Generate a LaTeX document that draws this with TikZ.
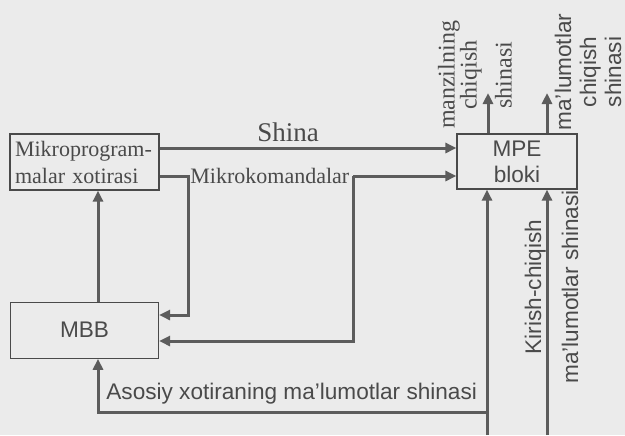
\documentclass[tikz,border=0pt]{standalone}
\usepackage{fontspec}
\setmainfont{Liberation Serif}
\setsansfont{Liberation Sans}
\usetikzlibrary{arrows.meta, positioning}
\definecolor{paper}{HTML}{EBEBEB}
\definecolor{ink}{HTML}{4A4A4A}
\definecolor{busgray}{HTML}{5C5C5C}
\tikzset{
  box/.style={
    rectangle,
    draw=ink,
    line width=0.6pt,
    text=ink,
    inner ysep=1pt
  },
  bus/.style={draw=busgray, line width=1.5pt},
  busarrow/.style={bus, -{Triangle[length=5.5pt,width=5pt]}},
  serifnote/.style={font=\fontsize{11}{13.5}\selectfont, text=ink, inner sep=1pt},
  sansnote/.style={font=\sffamily\fontsize{11.3}{13}\selectfont, text=ink, inner sep=1pt}
}

\begin{document}
\begin{tikzpicture}[x=0.5pt, y=-0.5pt]
\fill[paper] (0,0) rectangle (625,435);
\useasboundingbox (0,0) rectangle (625,435);

\node[box, serifnote, draw=ink, inner xsep=2.5pt, text width=69.5pt, minimum height=28pt, align=left] (mpx) at (84.5,162) {Mikroprogram-\\malar xotirasi};
\node[box, sansnote, draw=ink, minimum width=74pt, minimum height=28pt, below=55.5pt of mpx] (mbb) {MBB};
\node[box, sansnote, draw=ink, minimum width=60pt, minimum height=27.5pt, align=center] (mpe) at (517,161.5) {MPE\\bloki};

\coordinate (mkturn) at (188,176);
\coordinate (mksplit) at (353,176);
\coordinate (busjoin) at (487,412);
\coordinate (iobot) at (487,435);
\coordinate (databot) at (547,435);
\coordinate (addrout) at (488,93);
\coordinate (dataout) at (547,93);

\node[serifnote, font=\fontsize{13.5}{15}\selectfont] (shina) at (288,132) {Shina};
\node[serifnote, anchor=west] (mkom) at (mkturn) {Mikrokomandalar};
\node[sansnote, anchor=west] (asosiy) at (104,394) {Asosiy xotiraning ma'lumotlar shinasi};
\node[serifnote, font=\fontsize{12}{11}\selectfont, rotate=90, align=center] (addrlabel) at (475,75) {manzilning\\chiqish\\[6.5pt]shinasi};
\node[sansnote, font=\sffamily\fontsize{11.3}{12.5}\selectfont, rotate=90, align=center] (datalabel) at (588,72) {ma'lumotlar\\chiqish\\shinasi};
\node[sansnote, rotate=90, align=center] (iolabel) at (551.5,287) {Kirish-chiqish\\[5.5pt]ma'lumotlar shinasi};

\draw[busarrow] (mpx.east |- 0,148) -- (mpe.west |- 0,148);
\draw[busarrow] (mpx.east |- mkturn) -- (mkturn) -- (mkturn |- 0,315) -- (mbb.east |- 0,315);
\draw[busarrow] (mksplit) -- (mpe.west |- mksplit);
\draw[busarrow] (mksplit) -- (mksplit |- 0,341) -- (mbb.east |- 0,341);
\draw[busarrow] (98,0 |- mbb.north) -- (98,0 |- mpx.south);
\draw[busarrow] (busjoin) -- (98,0 |- busjoin) -- (98,0 |- mbb.south);
\draw[busarrow] (iobot) -- (iobot |- mpe.south);
\draw[busarrow] (databot) -- (databot |- mpe.south);
\draw[busarrow] (addrout |- mpe.north) -- (addrout);
\draw[busarrow] (dataout |- mpe.north) -- (dataout);
\end{tikzpicture}
\end{document}
